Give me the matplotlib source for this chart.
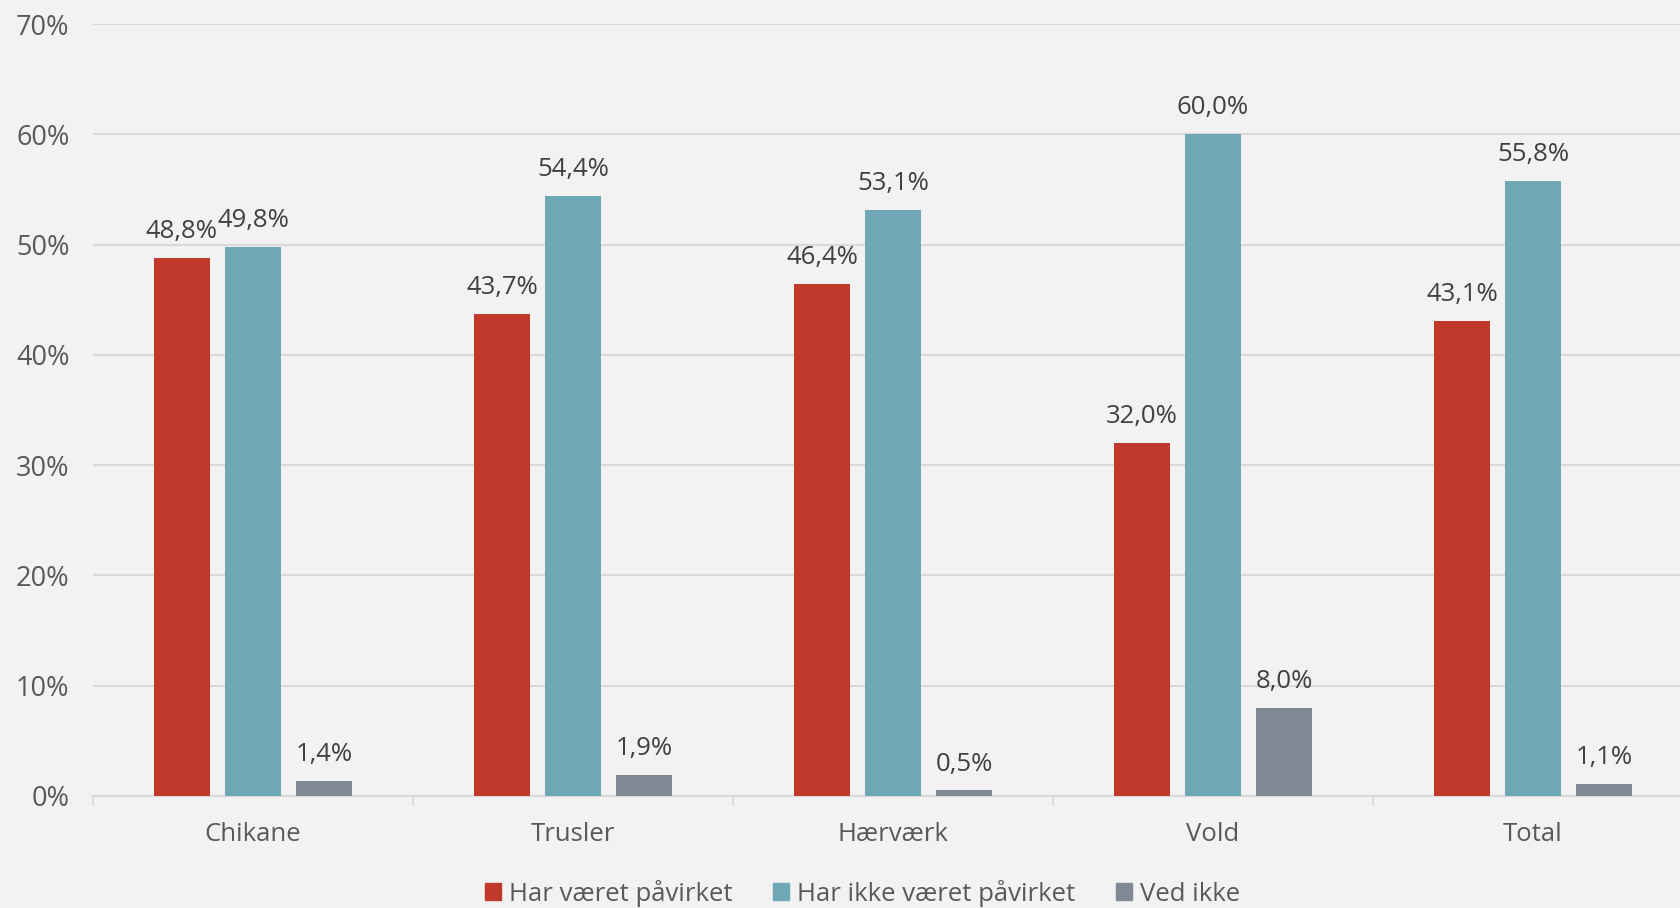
import numpy as np
import matplotlib.pyplot as plt
from matplotlib.patches import Rectangle

categories = ["Chikane", "Trusler", "Hærværk", "Vold", "Total"]
paavirket = [48.8, 43.7, 46.4, 32.0, 43.1]
ikke_paavirket = [49.8, 54.4, 53.1, 60.0, 55.8]
ved_ikke = [1.4, 1.9, 0.5, 8.0, 1.1]
series_names = ["Har været påvirket", "Har ikke været påvirket", "Ved ikke"]
colors = ["#C0392B", "#6FA8B4", "#818A94"]

plt.rcParams['font.family'] = ['Open Sans', 'DejaVu Sans']
bg = "#F2F2F2"
grid_c = "#D9D9D9"

fig = plt.figure(figsize=(16.81, 9.08), dpi=100, facecolor=bg)
ax = fig.add_axes([93 / 1681, 1 - 796 / 908, 1600 / 1681, 772 / 908])
ax.set_facecolor(bg)

x = np.arange(len(categories))
w = 0.175
step = 0.222
for i, (vals, c) in enumerate(zip([paavirket, ikke_paavirket, ved_ikke], colors)):
    pos = x + (i - 1) * step
    ax.bar(pos, vals, width=w, color=c, zorder=3)
    for p, v in zip(pos, vals):
        ax.annotate(f"{v:.1f}%".replace(".", ","), (p, v), xytext=(0, 10),
                    textcoords="offset points", ha="center", va="bottom",
                    fontsize=18.5, color="#404040")

ax.set_xlim(-0.5, len(categories) - 0.5)
ax.set_ylim(0, 70)
ax.set_yticks(np.arange(0, 71, 10))
ax.set_yticklabels([f"{t}%" for t in range(0, 71, 10)])
ax.yaxis.grid(True, color=grid_c, linewidth=1.5, zorder=0)
ax.tick_params(axis="y", length=0, labelsize=19.5, labelcolor="#595959", pad=17)

ax.set_xticks(x)
ax.set_xticklabels(categories)
ax.set_xticks(np.arange(-0.5, len(categories)), minor=True)
ax.tick_params(axis="x", which="major", length=0, labelsize=18.5, labelcolor="#595959", pad=19)
ax.tick_params(axis="x", which="minor", length=7, width=1.2, color=grid_c)

for s in ["top", "right", "left"]:
    ax.spines[s].set_visible(False)
ax.spines["bottom"].set_color(grid_c)
ax.spines["bottom"].set_linewidth(1.5)

handles = [Rectangle((0, 0), 1, 1, color=c) for c in colors]
fig.legend(handles, series_names, loc="center", bbox_to_anchor=(0.513, 0.0165),
           ncol=3, frameon=False, fontsize=18.5, labelcolor="#595959",
           handlelength=0.62, handleheight=0.62, handletextpad=0.3,
           columnspacing=1.6)

fig.savefig("out.png", dpi=100, facecolor=bg)
